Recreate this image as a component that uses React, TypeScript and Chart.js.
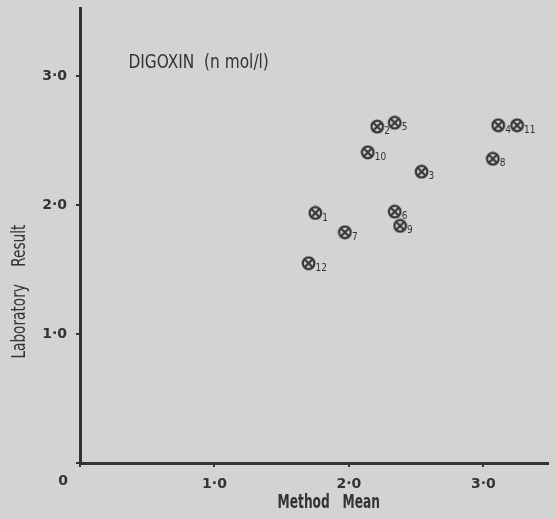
import React, { useEffect, useRef } from "react";
import { Chart, registerables } from "chart.js";

Chart.register(...registerables);

// ---- data ----
const pointIds = ["1", "2", "3", "4", "5", "6", "7", "8", "9", "10", "11", "12"];
const methodMean = [1.75, 2.21, 2.54, 3.11, 2.34, 2.34, 1.97, 3.07, 2.38, 2.14, 3.25, 1.7];
const labResult = [1.94, 2.61, 2.26, 2.62, 2.64, 1.95, 1.79, 2.36, 1.84, 2.41, 2.62, 1.55];
const tickValues = [0, 1, 2, 3];
const tickLabels = ["0", "1·0", "2·0", "3·0"];
const chartTitle = "DIGOXIN  (n mol/l)";
const xTitle = "Method   Mean";
const yTitle = "Laboratory    Result";

const INK = "#333333";
const BG = "#d3d3d3";

function makeMarker(): HTMLCanvasElement {
  const c = document.createElement("canvas");
  c.width = 15;
  c.height = 15;
  const g = c.getContext("2d")!;
  g.strokeStyle = INK;
  g.lineWidth = 2.2;
  g.beginPath();
  g.arc(7.5, 7.5, 5.8, 0, Math.PI * 2);
  g.stroke();
  const d = 4;
  g.beginPath();
  g.moveTo(7.5 - d, 7.5 - d);
  g.lineTo(7.5 + d, 7.5 + d);
  g.moveTo(7.5 + d, 7.5 - d);
  g.lineTo(7.5 - d, 7.5 + d);
  g.stroke();
  return c;
}

function condensedText(
  ctx: CanvasRenderingContext2D,
  text: string,
  x: number,
  y: number,
  font: string,
  sx: number,
  align: CanvasTextAlign
) {
  ctx.save();
  ctx.translate(x, y);
  ctx.scale(sx, 1);
  ctx.font = font;
  ctx.textAlign = align;
  ctx.textBaseline = "middle";
  ctx.fillStyle = INK;
  ctx.fillText(text, 0, 0);
  ctx.restore();
}

const decorPlugin = {
  id: "decor",
  beforeDraw(chart: any) {
    const ctx = chart.ctx;
    ctx.save();
    ctx.fillStyle = BG;
    ctx.fillRect(0, 0, chart.width, chart.height);
    ctx.restore();
  },
  afterDraw(chart: any) {
    const ctx: CanvasRenderingContext2D = chart.ctx;
    const xs = chart.scales.x;
    const ys = chart.scales.y;
    // point numbers
    const meta = chart.getDatasetMeta(0);
    meta.data.forEach((pt: any, i: number) => {
      ctx.save();
      ctx.font = "10px 'DejaVu Sans Condensed', 'DejaVu Sans'";
      ctx.fillStyle = INK;
      ctx.textAlign = "left";
      ctx.textBaseline = "middle";
      ctx.fillText(pointIds[i], pt.x + 7, pt.y + 5);
      ctx.restore();
    });
    // title inside plot
    condensedText(
      ctx,
      chartTitle,
      xs.getPixelForValue(0.36),
      ys.getPixelForValue(3.1),
      "19px 'DejaVu Sans Condensed', 'DejaVu Sans'",
      0.9,
      "left"
    );
    // x title
    condensedText(
      ctx,
      xTitle,
      xs.getPixelForValue(1.85),
      503,
      "bold 20px 'DejaVu Sans Condensed', 'DejaVu Sans'",
      0.68,
      "center"
    );
    // y title
    ctx.save();
    ctx.translate(20, ys.getPixelForValue(1.33));
    ctx.rotate(-Math.PI / 2);
    condensedText(ctx, yTitle, 0, 0, "19px 'DejaVu Sans Condensed', 'DejaVu Sans'", 0.8, "center");
    ctx.restore();
    // origin label
    ctx.save();
    ctx.font = "bold 14px 'DejaVu Sans'";
    ctx.fillStyle = INK;
    ctx.textAlign = "center";
    ctx.textBaseline = "middle";
    ctx.fillText(tickLabels[0], xs.getPixelForValue(0) - 17, 481);
    ctx.restore();
  },
};

export default function App() {
  const ref = useRef<HTMLCanvasElement>(null);
  useEffect(() => {
    document.body.style.margin = "0";
    const marker = makeMarker();
    const chart = new Chart(ref.current!, {
      type: "scatter",
      data: {
        datasets: [
          {
            label: "Digoxin",
            data: methodMean.map((x, i) => ({ x, y: labResult[i] })),
            pointStyle: marker as any,
            pointRadius: 7,
            pointHoverRadius: 7,
          },
        ],
      },
      options: {
        animation: false,
        responsive: false,
        devicePixelRatio: 1,
        layout: { padding: { left: 0, top: 5, right: 8, bottom: 0 } },
        plugins: {
          legend: { display: false },
          tooltip: { enabled: false },
          title: { display: false },
        },
        scales: {
          x: {
            type: "linear",
            min: 0,
            max: 3.48,
            afterBuildTicks: (s: any) => {
              s.ticks = tickValues.map((v) => ({ value: v }));
            },
            afterFit: (s: any) => {
              s.height = 56;
              s.paddingLeft = 0;
              s.paddingRight = 0;
            },
            grid: {
              display: true,
              drawOnChartArea: false,
              drawTicks: true,
              tickLength: 4,
              color: INK,
              lineWidth: 2,
            },
            border: { display: true, color: INK, width: 3 },
            ticks: {
              padding: 9,
              color: INK,
              font: { family: "'DejaVu Sans'", size: 14, weight: "bold" },
              callback: (v: any) => {
                const i = tickValues.indexOf(Number(v));
                return i > 0 ? tickLabels[i] : "";
              },
            },
          },
          y: {
            type: "linear",
            min: 0,
            max: 3.53,
            afterBuildTicks: (s: any) => {
              s.ticks = tickValues.map((v) => ({ value: v }));
            },
            afterFit: (s: any) => {
              s.width = 80;
              s.paddingTop = 0;
              s.paddingBottom = 0;
            },
            grid: {
              display: true,
              drawOnChartArea: false,
              drawTicks: true,
              tickLength: 4,
              color: INK,
              lineWidth: 2,
            },
            border: { display: true, color: INK, width: 3 },
            ticks: {
              padding: 9,
              color: INK,
              font: { family: "'DejaVu Sans'", size: 14, weight: "bold" },
              callback: (v: any) => {
                const i = tickValues.indexOf(Number(v));
                return i > 0 ? tickLabels[i] : "";
              },
            },
          },
        },
      },
      plugins: [decorPlugin],
    });
    return () => chart.destroy();
  }, []);
  return (
    <div style={{ position: "absolute", left: 0, top: 0, width: 556, height: 519, background: BG }}>
      <canvas ref={ref} width={556} height={519} />
    </div>
  );
}
